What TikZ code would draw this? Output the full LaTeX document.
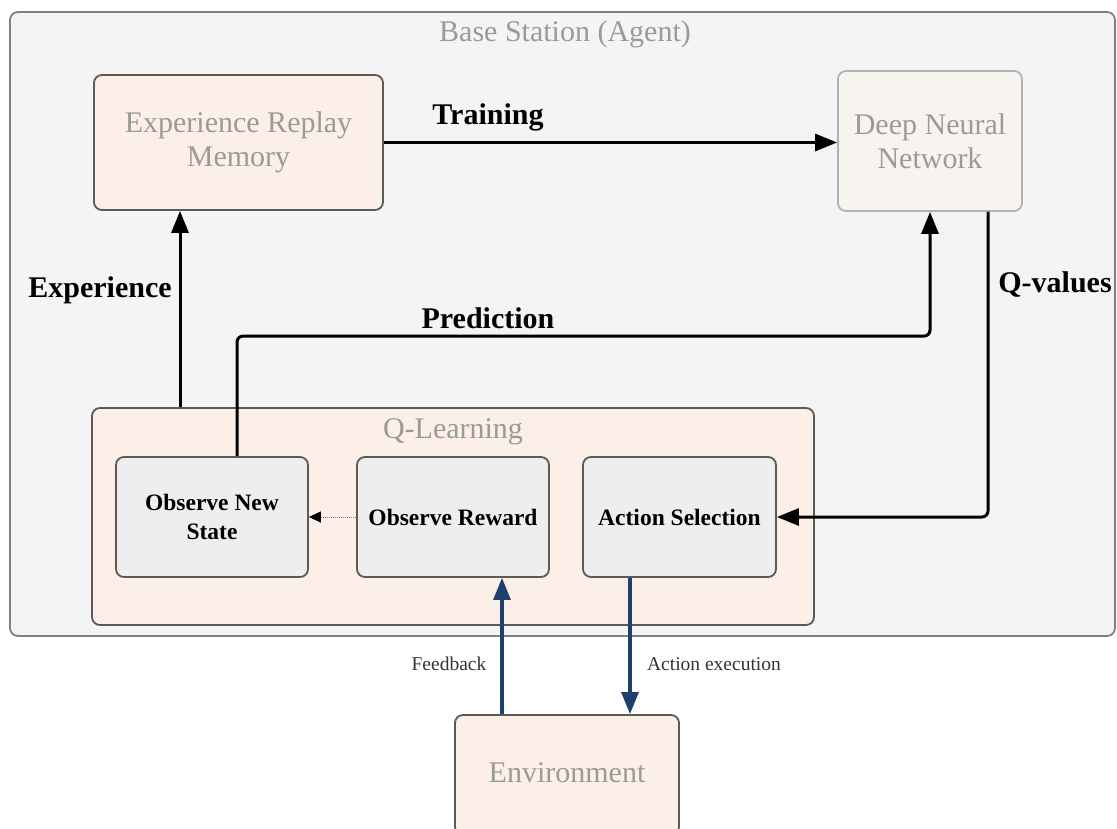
\documentclass[tikz,border=0pt]{standalone}
\usepackage{fontspec}
\setmainfont{Liberation Serif}
\usetikzlibrary{arrows.meta,calc}
\definecolor{outerfill}{HTML}{F4F4F4}
\definecolor{peach}{HTML}{FCEFE7}
\definecolor{dnnfill}{HTML}{F7F3EE}
\definecolor{innerfill}{HTML}{EEEEEE}
\definecolor{titlegray}{HTML}{9A9A9A}
\definecolor{bordergray}{HTML}{5A5A5A}
\definecolor{navy}{HTML}{1F3F6E}
\tikzset{
  box/.style={draw=bordergray, line width=1.8pt, rounded corners=8pt, inner sep=0pt, align=center},
  bigtext/.style={font=\fontsize{30}{34}\selectfont, text=titlegray},
  innerbox/.style={box, fill=innerfill, font=\fontsize{23.5}{29}\selectfont\bfseries},
  arr/.style={line width=3pt, -{Triangle[length=22pt,width=17pt]}},
  barr/.style={line width=3.2pt, draw=navy, -{Triangle[length=22pt,width=17pt]}, navy},
  lbl/.style={font=\fontsize{30}{34}\selectfont\bfseries},
  smalllbl/.style={font=\fontsize{19.5}{23}\selectfont, text=black!80},
}
\begin{document}
\begin{tikzpicture}[x=1pt,y=-1pt]
\useasboundingbox (0,0) rectangle (1117,829);
\begin{scope}
\clip (0,0) rectangle (1117,829);
% outer box
\node[box, draw=gray, fill=outerfill, minimum width=1105, minimum height=624] (bs) at (562.5,324) {};
\node[bigtext] (bstitle) at (565,34) {Base Station (Agent)};
% top boxes
\node[box, fill=peach, bigtext, minimum width=289, minimum height=135] (erm) at (238.5,142.5) {Experience Replay\\Memory};
\node[box, draw=gray!60, fill=dnnfill, bigtext, minimum width=184, minimum height=140] (dnn) at (930,141) {Deep Neural\\Network};
% Q-learning
\node[box, fill=peach, minimum width=722, minimum height=217] (ql) at (453,516.5) {};
\node[bigtext] (qltitle) at (453,432) {Q-Learning};
\node[innerbox, minimum width=192, minimum height=120] (ons) at (212,517) {Observe New\\State};
\node[innerbox, minimum width=192, minimum height=120] (or) at (453,517) {Observe Reward};
\node[innerbox, minimum width=193, minimum height=120] (as) at (679.5,517) {Action Selection};
% environment
\node[box, fill=peach, bigtext, minimum width=224, minimum height=120] (env) at (567,775) {};
\node[bigtext] (envtext) at (567,773) {Environment};
% connectors
\draw[arr] (erm.east) -- (erm.east -| dnn.west);
\node[lbl] (training) at (488,117) {Training};
\draw[arr] ([xshift=-58.5pt]erm.south |- ql.north) -- ([xshift=-58.5pt]erm.south);
\node[lbl] (experience) at (100,290) {Experience};
\draw[arr, rounded corners=6pt] ([xshift=25pt]ons.north) -- ++(0,-120) -| (dnn.south);
\node[lbl] (prediction) at (488,318) {Prediction};
\draw[arr, rounded corners=6pt] ([xshift=58pt]dnn.south) |- (as.east);
\node[lbl] (qvalues) at (1055,285) {Q-values};
\draw[gray, line width=1pt, densely dotted, -{Triangle[length=12pt,width=11pt,color=black]}] (or.west) -- (ons.east);
\draw[barr] ([xshift=-65pt]env.north) -- ([xshift=-65pt]env.north |- or.south);
\node[smalllbl] (feedback) at (449,664) {Feedback};
\draw[barr] ([xshift=-49.5pt]as.south) -- ([xshift=-49.5pt]as.south |- env.north);
\node[smalllbl] (actexec) at (714,664) {Action execution};
\end{scope}
\end{tikzpicture}
\end{document}
